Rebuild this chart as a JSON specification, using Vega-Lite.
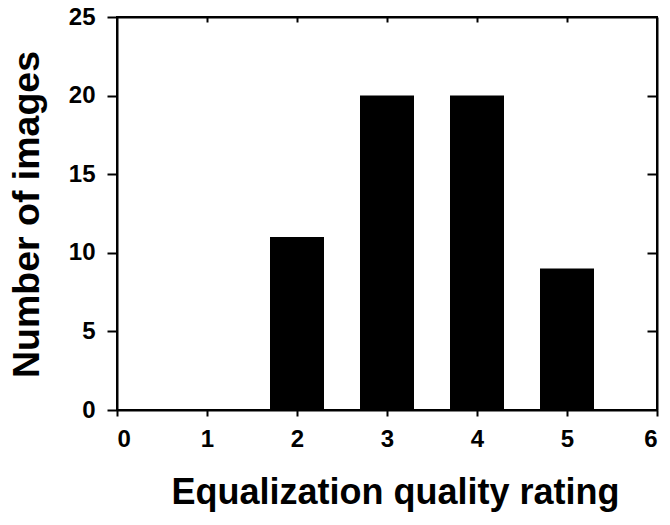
{
  "$schema": "https://vega.github.io/schema/vega-lite/v6.json",
  "width": 540,
  "height": 393,
  "autosize": {"type": "none"},
  "padding": {"left": 117, "top": 17, "right": 13, "bottom": 115},
  "background": "white",
  "config": {
    "view": {"stroke": "black", "strokeWidth": 2},
    "axis": {
      "grid": false,
      "domainColor": "black",
      "domainWidth": 2,
      "tickColor": "black",
      "tickWidth": 2,
      "labelFont": "Liberation Sans",
      "labelFontWeight": "bold",
      "labelFontSize": 24,
      "labelColor": "black",
      "titleFont": "Liberation Sans",
      "titleFontWeight": "bold",
      "titleColor": "black"
    }
  },
  "data": {
    "values": [
      {"rating": 2, "count": 11},
      {"rating": 3, "count": 20},
      {"rating": 4, "count": 20},
      {"rating": 5, "count": 9}
    ]
  },
  "layer": [
    {
      "mark": {"type": "bar", "color": "black", "size": 54, "orient": "vertical"},
      "encoding": {
        "x": {
          "field": "rating",
          "type": "quantitative",
          "scale": {"domain": [0, 6], "nice": false, "zero": false, "padding": 0},
          "axis": {
            "orient": "bottom",
            "values": [0, 1, 2, 3, 4, 5, 6],
            "tickSize": 6,
            "labelPadding": 11,
            "labelBaseline": "top",
            "title": "Equalization quality rating",
            "titleFontSize": 36,
            "titleX": 278,
            "titleY": 93,
            "titleBaseline": "alphabetic",
            "titleAnchor": null
          }
        },
        "y": {
          "field": "count",
          "type": "quantitative",
          "scale": {"domain": [0, 25], "nice": false, "padding": 0},
          "axis": {
            "orient": "left",
            "values": [0, 5, 10, 15, 20, 25],
            "tickSize": 10,
            "labelPadding": 12,
            "title": "Number of images",
            "titleFontSize": 37.5,
            "titleAngle": -90,
            "titleX": -90,
            "titleY": 197,
            "titleBaseline": "middle",
            "titleAlign": "center",
            "titleAnchor": null
          }
        }
      }
    },
    {
      "mark": {"type": "point", "opacity": 0},
      "encoding": {
        "x": {
          "field": "rating",
          "type": "quantitative",
          "scale": {"domain": [0, 6], "nice": false, "zero": false, "padding": 0},
          "axis": {"orient": "top", "values": [1, 2, 3, 4, 5], "tickSize": -5, "labels": false, "title": null}
        },
        "y": {
          "field": "count",
          "type": "quantitative",
          "scale": {"domain": [0, 25], "nice": false, "padding": 0},
          "axis": {"orient": "right", "values": [5, 10, 15, 20], "tickSize": -10, "labels": false, "title": null}
        }
      }
    }
  ],
  "resolve": {"axis": {"x": "independent", "y": "independent"}}
}
